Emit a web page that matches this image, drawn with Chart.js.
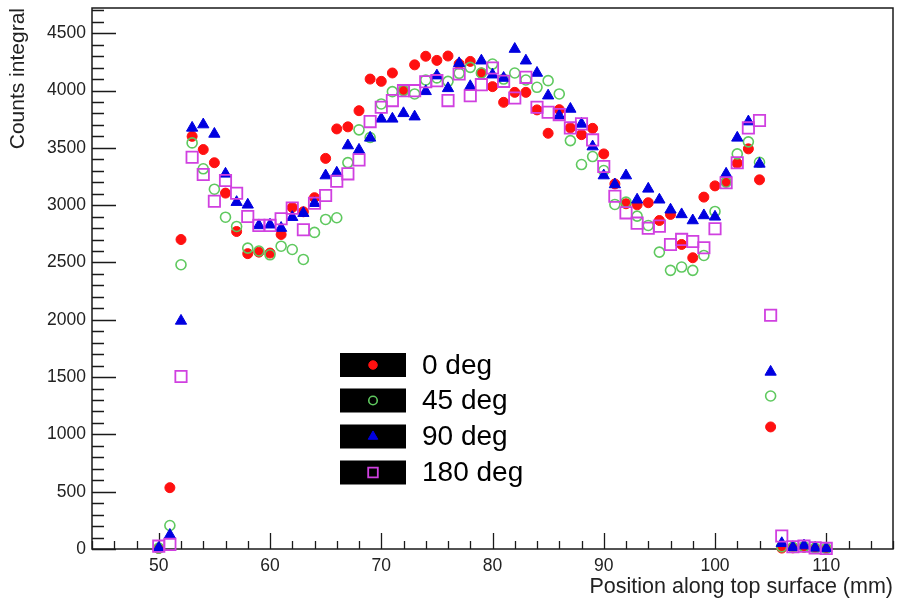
<!DOCTYPE html>
<html>
<head>
<meta charset="utf-8">
<script src="https://cdn.jsdelivr.net/npm/chart.js@4.4.1/dist/chart.umd.min.js"></script>
<style>
  html, body { margin: 0; padding: 0; background: #ffffff; }
  #wrap { width: 899px; height: 603px; }
</style>
</head>
<body>
<div id="wrap"><canvas id="c" width="899" height="603"></canvas></div>
<script>
// Position along the top surface (mm)
const positions = [
  50, 51, 52, 53, 54, 55, 56, 57, 58, 59,
  60, 61, 62, 63, 64, 65, 66, 67, 68, 69,
  70, 71, 72, 73, 74, 75, 76, 77, 78, 79,
  80, 81, 82, 83, 84, 85, 86, 87, 88, 89,
  90, 91, 92, 93, 94, 95, 96, 97, 98, 99,
  100, 101, 102, 103, 104, 105, 106, 107, 108, 109, 110
];

// Counts integral for each rotation angle
const deg0 = [
  5, 535, 2700, 3600, 3485, 3370, 3105, 2770, 2577, 2590,
  2582, 2744, 2980, 2942, 3065, 3408, 3665, 3683, 3824, 4100,
  4080, 4153, 4005, 4224, 4299, 4263, 4301, 4232, 4254, 4153,
  4034, 3897, 3984, 3984, 3831, 3627, 3833, 3674, 3615, 3670,
  3447, 3185, 3012, 3003, 3021, 2866, 2919, 2657, 2541, 3070,
  3168, 3203, 3365, 3491, 3221, 1065, 8, 10, 15, 5, 3
];
const deg45 = [
  8, 205, 2480, 3543, 3317, 3139, 2895, 2814, 2625, 2600,
  2567, 2642, 2613, 2526, 2762, 2875, 2890, 3371, 3657, 3590,
  3883, 3990, 4000, 3970, 4092, 4110, 4080, 4150, 4202, 4153,
  4231, 4100, 4153, 4092, 4028, 4086, 3970, 3563, 3354, 3424,
  3302, 3006, 3026, 2904, 2823, 2590, 2431, 2460, 2431, 2561,
  2945, 3200, 3447, 3552, 3374, 1335, 20, 15, 20, 8, 5
];
const deg90 = [
  10, 122, 1990, 3674, 3703, 3621, 3273, 3026, 3003, 2823,
  2829, 2800, 2895, 2930, 3017, 3258, 3282, 3520, 3482, 3587,
  3753, 3753, 3801, 3772, 3993, 4130, 4019, 4237, 4037, 4260,
  4138, 4109, 4362, 4260, 4153, 3955, 3781, 3839, 3709, 3511,
  3258, 3180, 3258, 3047, 3142, 3047, 2960, 2919, 2866, 2910,
  2898, 3273, 3587, 3729, 3360, 1545, 50, 15, 30, 10, 5
];
const deg180 = [
  25, 40, 1505, 3418, 3267, 3034, 3215, 3104, 2901, 2823,
  2823, 2881, 2974, 2785, 3017, 3084, 3209, 3273, 3395, 3729,
  3854, 3912, 3999, 3999, 4077, 4086, 3912, 4144, 3955, 4051,
  4196, 4080, 3935, 4115, 3854, 3810, 3790, 3674, 3709, 3569,
  3337, 3078, 2933, 2843, 2799, 2817, 2657, 2701, 2683, 2628,
  2794, 3195, 3370, 3674, 3738, 2039, 113, 20, 25, 10, 5
];

const seriesLabels = ['0 deg', '45 deg', '90 deg', '180 deg'];

// Labelled tick values
const xTickValues = [50, 60, 70, 80, 90, 100, 110];
const yTickValues = [0, 500, 1000, 1500, 2000, 2500, 3000, 3500, 4000, 4500];

const FONT = "'Liberation Sans', Arial, Helvetica, sans-serif";
const AXIS_COLOR = '#1a1a1a';

const toPoints = (ys) => positions.map((x, i) => ({ x: x, y: ys[i] }));

const seriesStyles = [
  { pointStyle: 'circle',   pointRadius: 5, backgroundColor: '#ff1010', borderColor: '#ff1010', pointBorderWidth: 1 },
  { pointStyle: 'circle',   pointRadius: 5, backgroundColor: 'rgba(0,0,0,0)', borderColor: '#5fc95f', pointBorderWidth: 1.6 },
  { pointStyle: 'triangle', pointRadius: 6.5, backgroundColor: '#0000e0', borderColor: '#0000e0', pointBorderWidth: 1 },
  { pointStyle: 'rect',     pointRadius: 8, backgroundColor: 'rgba(0,0,0,0)', borderColor: '#d040e0', pointBorderWidth: 1.8 }
];

const seriesData = [deg0, deg45, deg90, deg180];

const datasets = seriesData.map((ys, i) => Object.assign({
  label: seriesLabels[i],
  data: toPoints(ys),
  showLine: false,
  clip: false,
  order: seriesData.length - i
}, seriesStyles[i]));

// Frame with inward tick marks on the bottom and left axes
const framePlugin = {
  id: 'frame',
  beforeDatasetsDraw(chart) {
    const { ctx, chartArea: a, scales } = chart;
    const xs = scales.x, ys = scales.y;
    ctx.save();
    ctx.strokeStyle = AXIS_COLOR;
    ctx.lineWidth = 1.5;
    ctx.strokeRect(a.left, a.top, a.right - a.left, a.bottom - a.top);
    ctx.lineWidth = 1.3;
    ctx.beginPath();
    // x ticks: every 2 mm, long at labelled values
    for (let v = Math.ceil(xs.min / 2) * 2; v <= xs.max; v += 2) {
      const px = Math.round(xs.getPixelForValue(v)) + 0.5;
      const len = (v % 10 === 0) ? 16 : 8;
      ctx.moveTo(px, a.bottom);
      ctx.lineTo(px, a.bottom - len);
    }
    // y ticks: every 100, long at labelled values
    for (let v = 0; v <= ys.max; v += 100) {
      const py = Math.round(ys.getPixelForValue(v)) + 0.5;
      const len = (v % 500 === 0) ? 24 : 12;
      ctx.moveTo(a.left, py);
      ctx.lineTo(a.left + len, py);
    }
    ctx.stroke();
    ctx.restore();
  }
};

// Legend block: black swatches holding each marker, with labels beside them
const legendPlugin = {
  id: 'boxLegend',
  afterDatasetsDraw(chart) {
    const { ctx } = chart;
    const boxLeft = 340, boxW = 66, boxH = 24;
    const rowCenters = [365, 400.5, 436.5, 472.5];
    ctx.save();
    chart.data.datasets.forEach((ds, i) => {
      const cy = rowCenters[i];
      ctx.fillStyle = '#000000';
      ctx.fillRect(boxLeft, cy - boxH / 2, boxW, boxH);
      ctx.fillStyle = ds.backgroundColor;
      ctx.strokeStyle = ds.borderColor;
      ctx.lineWidth = ds.pointBorderWidth;
      Chart.helpers.drawPoint(ctx, {
        pointStyle: ds.pointStyle,
        radius: ds.pointRadius * 0.85,
        rotation: 0,
        borderWidth: ds.pointBorderWidth
      }, boxLeft + boxW / 2, cy);
      ctx.fillStyle = '#000000';
      ctx.font = '28px ' + FONT;
      ctx.textAlign = 'left';
      ctx.textBaseline = 'middle';
      ctx.fillText(ds.label, 422, cy + 1);
    });
    ctx.restore();
  }
};

// Keep the plot frame where the layout padding puts it
const noLabelPadding = (s) => {
  s.paddingTop = 0; s.paddingBottom = 0; s.paddingLeft = 0; s.paddingRight = 0;
};

new Chart(document.getElementById('c'), {
  type: 'scatter',
  data: { datasets: datasets },
  plugins: [framePlugin, legendPlugin],
  options: {
    responsive: false,
    devicePixelRatio: 1,
    animation: false,
    layout: { autoPadding: false, padding: { top: 8, right: 6, left: 0, bottom: 0 } },
    plugins: {
      legend: { display: false },
      tooltip: { enabled: false }
    },
    scales: {
      x: {
        type: 'linear',
        min: 44,
        max: 116,
        afterBuildTicks: (s) => { s.ticks = xTickValues.map(v => ({ value: v })); },
        afterFit: (s) => { s.height = 54; noLabelPadding(s); },
        grid: { display: false, drawTicks: false },
        border: { display: false },
        ticks: {
          padding: 7,
          maxRotation: 0,
          autoSkip: false,
          color: '#222222',
          font: { family: FONT, size: 17.5 },
          callback: (v) => String(v)
        },
        title: {
          display: true,
          text: 'Position along top surface (mm)',
          align: 'end',
          color: '#222222',
          padding: { top: 0, bottom: 3 },
          font: { family: FONT, size: 21.5 }
        }
      },
      y: {
        type: 'linear',
        min: 0,
        max: 4720,
        afterBuildTicks: (s) => { s.ticks = yTickValues.map(v => ({ value: v })); },
        afterFit: (s) => { s.width = 92; noLabelPadding(s); },
        grid: { display: false, drawTicks: false },
        border: { display: false },
        ticks: {
          padding: 6,
          autoSkip: false,
          color: '#222222',
          font: { family: FONT, size: 17.5 },
          callback: (v) => String(v)
        },
        title: {
          display: true,
          text: 'Counts integral',
          align: 'end',
          color: '#222222',
          padding: { top: 6, bottom: 0 },
          font: { family: FONT, size: 21 }
        }
      }
    }
  }
});
</script>
</body>
</html>
